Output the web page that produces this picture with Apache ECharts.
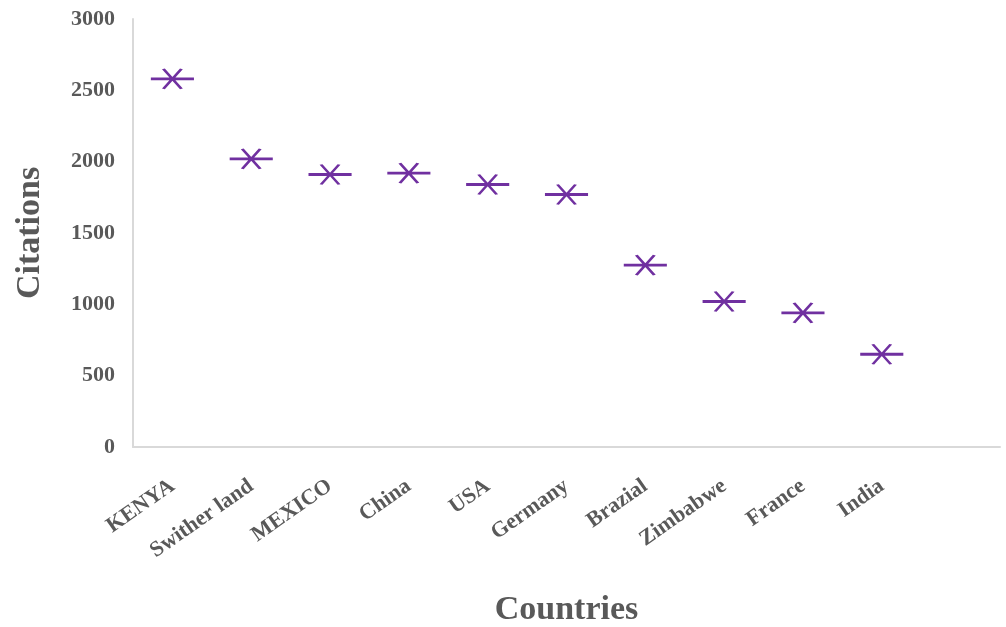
<!DOCTYPE html>
<html>
<head>
<meta charset="utf-8">
<script src="https://cdn.jsdelivr.net/npm/echarts@6/dist/echarts.min.js"></script>
<style>html,body{margin:0;padding:0;background:#fff}#c{width:1006px;height:627px}</style>
</head>
<body>
<div id="c"></div>
<script>
const categories = ['KENYA','Swither land','MEXICO','China','USA','Germany','Brazial','Zimbabwe','France','India',''];
const citations = [2580, 2020, 1910, 1920, 1840, 1770, 1275, 1020, 940, 650];
const yTicks = [0, 500, 1000, 1500, 2000, 2500, 3000];

const chart = echarts.init(document.getElementById('c'));
const font = 'Liberation Serif';
chart.setOption({
  animation: false,
  grid: {left: 133, right: 6, top: 19, bottom: 180, containLabel: false, outerBoundsMode: 'none'},
  xAxis: {
    type: 'category',
    data: categories,
    boundaryGap: true,
    name: 'Countries',
    nameLocation: 'middle',
    nameGap: 146,
    nameTextStyle: {fontFamily: font, fontWeight: 'bold', fontSize: 34, color: '#595959'},
    axisLine: {lineStyle: {color: '#d9d9d9', width: 2}},
    axisTick: {show: false},
    axisLabel: {interval: 0, rotate: 35, margin: 37, fontFamily: font, fontWeight: 'bold', fontSize: 22, color: '#595959'}
  },
  yAxis: {
    type: 'value',
    min: yTicks[0],
    max: yTicks[yTicks.length - 1],
    interval: 500,
    name: 'Citations',
    nameLocation: 'middle',
    nameGap: 86,
    nameTextStyle: {fontFamily: font, fontWeight: 'bold', fontSize: 34, color: '#595959'},
    axisLine: {show: true, lineStyle: {color: '#d9d9d9', width: 2}},
    axisTick: {show: false},
    splitLine: {show: false},
    axisLabel: {margin: 18, fontFamily: font, fontWeight: 'bold', fontSize: 22, color: '#595959', formatter: v => String(v)}
  },
  series: [{
    type: 'scatter',
    data: citations,
    symbol: 'path://M0,9.5 L40,9.5 L40,10.5 L0,10.5 Z M11,2 L29,18 M29,2 L11,18',
    symbolSize: [40, 20],
    itemStyle: {color: '#7030a0', borderColor: '#7030a0', borderWidth: 2.2, opacity: 1}
  }]
});
</script>
</body>
</html>
